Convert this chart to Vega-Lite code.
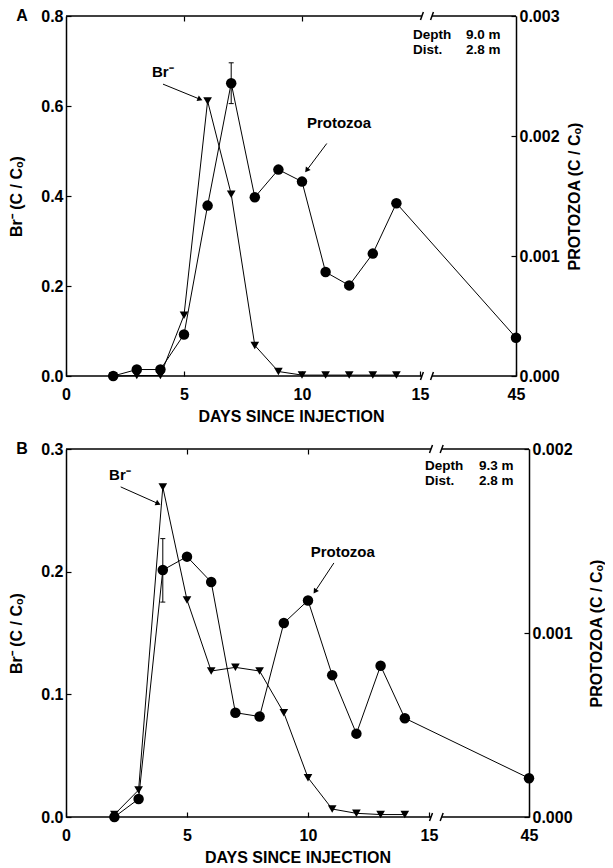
{
  "$schema": "https://vega.github.io/schema/vega-lite/v6.json",
  "padding": {"left": 8, "top": 8, "right": 0, "bottom": 0},
  "spacing": 17,
  "config": {
    "view": {"stroke": null},
    "font": "Liberation Sans",
    "axis": {"grid": false, "domainColor": "black", "domainWidth": 1.5, "tickColor": "black", "tickWidth": 1.2, "tickSize": -5,
      "labelFont": "Liberation Sans", "labelFontSize": 16, "labelFontWeight": "bold", "labelColor": "black",
      "titleFont": "Liberation Sans", "titleFontSize": 16, "titleFontWeight": "bold", "titleColor": "black",
      "labelFlush": false, "labelOverlap": false},
    "text": {"font": "Liberation Sans", "fontWeight": "bold", "color": "black"}
  },
  "datasets": {
    "brA": [
      {"day": 2, "br": 0.0}, {"day": 3, "br": 0.001}, {"day": 4, "br": 0.001}, {"day": 5, "br": 0.135},
      {"day": 6, "br": 0.611}, {"day": 7, "br": 0.404}, {"day": 8, "br": 0.068}, {"day": 9, "br": 0.01},
      {"day": 10, "br": 0.002}, {"day": 11, "br": 0.002}, {"day": 12, "br": 0.002}, {"day": 13, "br": 0.002}, {"day": 14, "br": 0.002}
    ],
    "protoA": [
      {"day": 2, "p": 0.0}, {"day": 3, "p": 0.000054}, {"day": 4, "p": 0.000054}, {"day": 5, "p": 0.000346},
      {"day": 6, "p": 0.00142}, {"day": 7, "p": 0.00244}, {"day": 8, "p": 0.00149}, {"day": 9, "p": 0.00172},
      {"day": 10, "p": 0.00162}, {"day": 11, "p": 0.000866}, {"day": 12, "p": 0.000755}, {"day": 13, "p": 0.00102},
      {"day": 14, "p": 0.00144}, {"day": 45, "p": 0.000319}
    ],
    "errA": [{"day": 7, "lo": 0.00227, "hi": 0.00261}],
    "frameA": [
      {"x": 0, "x2": 15.6, "y": 0, "y2": 0}, {"x": 18.75, "x2": 45, "y": 0, "y2": 0},
      {"x": 0, "x2": 15.6, "y": 0.8, "y2": 0.8}, {"x": 18.75, "x2": 45, "y": 0.8, "y2": 0.8},
      {"x": 15.15, "x2": 16.05, "y": -0.009, "y2": 0.009}, {"x": 18.3, "x2": 19.2, "y": -0.009, "y2": 0.009},
      {"x": 15.15, "x2": 16.05, "y": 0.791, "y2": 0.809}, {"x": 18.3, "x2": 19.2, "y": 0.791, "y2": 0.809}
    ],
    "arrowsA": [
      {"x": 4.11, "y": 0.6486, "x2": 5.68, "y2": 0.615, "k": "br"},
      {"x": 11.05, "y": 0.5167, "x2": 10.2, "y2": 0.4572, "k": "pr"}
    ],
    "labelsA": [
      {"x": 3.64, "y": 0.675, "t": "Br⁻"},
      {"x": 10.21, "y": 0.562, "t": "Protozoa"}
    ],
    "infoA": [
      {"x": 14.7, "y": 0.757, "t": "Depth"}, {"x": 29.4, "y": 0.757, "t": "9.0 m"},
      {"x": 14.7, "y": 0.724, "t": "Dist."}, {"x": 29.4, "y": 0.724, "t": "2.8 m"}
    ],
    "letterA": [{"x": 0, "y": 0.8, "t": "A"}],
    "brB": [
      {"day": 2, "br": 0.002}, {"day": 3, "br": 0.022}, {"day": 4, "br": 0.269}, {"day": 5, "br": 0.177},
      {"day": 6, "br": 0.119}, {"day": 7, "br": 0.122}, {"day": 8, "br": 0.119}, {"day": 9, "br": 0.085},
      {"day": 10, "br": 0.032}, {"day": 11, "br": 0.0065}, {"day": 12, "br": 0.003}, {"day": 13, "br": 0.002}, {"day": 14, "br": 0.002}
    ],
    "protoB": [
      {"day": 2, "p": 0.0}, {"day": 3, "p": 0.000098}, {"day": 4, "p": 0.001342}, {"day": 5, "p": 0.001415},
      {"day": 6, "p": 0.001277}, {"day": 7, "p": 0.000567}, {"day": 8, "p": 0.000546}, {"day": 9, "p": 0.001054},
      {"day": 10, "p": 0.001177}, {"day": 11, "p": 0.000771}, {"day": 12, "p": 0.000453}, {"day": 13, "p": 0.000822},
      {"day": 14, "p": 0.000537}, {"day": 45, "p": 0.000211}
    ],
    "errB": [{"day": 4, "lo": 0.001168, "hi": 0.001513}],
    "frameB": [
      {"x": 0, "x2": 15.6, "y": 0, "y2": 0}, {"x": 18.8, "x2": 45, "y": 0, "y2": 0},
      {"x": 0, "x2": 15.6, "y": 0.3, "y2": 0.3}, {"x": 18.8, "x2": 45, "y": 0.3, "y2": 0.3},
      {"x": 15.15, "x2": 16.05, "y": -0.0033, "y2": 0.0033}, {"x": 18.35, "x2": 19.25, "y": -0.0033, "y2": 0.0033},
      {"x": 15.15, "x2": 16.05, "y": 0.2967, "y2": 0.3033}, {"x": 18.35, "x2": 19.25, "y": 0.2967, "y2": 0.3033}
    ],
    "arrowsB": [
      {"x": 2.26, "y": 0.2691, "x2": 3.81, "y2": 0.2555, "k": "br"},
      {"x": 11.07, "y": 0.2071, "x2": 10.29, "y2": 0.1839, "k": "pr"}
    ],
    "labelsB": [
      {"x": 1.78, "y": 0.2784, "t": "Br⁻"},
      {"x": 10.11, "y": 0.2159, "t": "Protozoa"}
    ],
    "infoB": [
      {"x": 14.83, "y": 0.2861, "t": "Depth"}, {"x": 30, "y": 0.2861, "t": "9.3 m"},
      {"x": 14.83, "y": 0.2738, "t": "Dist."}, {"x": 30, "y": 0.2738, "t": "2.8 m"}
    ],
    "letterB": [{"x": 0, "y": 0.3, "t": "B"}]
  },
  "vconcat": [
    {
      "width": 450, "height": 360,
      "resolve": {"scale": {"y": "independent"}, "axis": {"y": "independent", "x": "independent"}},
      "layer": [
        {
          "layer": [
            {"data": {"name": "brA"}, "mark": {"type": "line", "color": "black", "strokeWidth": 1},
             "encoding": {
               "x": {"field": "day", "type": "quantitative", "scale": {"domain": [0, 15, 45], "range": [0, 354, 450], "nice": false, "zero": false},
                     "axis": {"orient": "bottom", "values": [0, 5, 10, 15, 45], "domain": false, "title": "DAYS SINCE INJECTION", "labelPadding": 15, "titlePadding": 6}},
               "y": {"field": "br", "type": "quantitative", "scale": {"domain": [0, 0.8], "nice": false, "zero": false},
                     "axis": {"orient": "left", "values": [0, 0.2, 0.4, 0.6, 0.8], "format": ".1f", "title": "Br⁻  (C / Cₒ)", "labelPadding": 8, "titlePadding": 16}}
             }},
            {"data": {"name": "brA"}, "mark": {"type": "point", "shape": "triangle-down", "filled": true, "color": "black", "size": 75, "opacity": 1},
             "encoding": {"x": {"field": "day", "type": "quantitative"}, "y": {"field": "br", "type": "quantitative"}}},
            {"data": {"name": "frameA"}, "mark": {"type": "rule", "color": "black", "strokeWidth": 1.5},
             "encoding": {"x": {"field": "x", "type": "quantitative"}, "x2": {"field": "x2"}, "y": {"field": "y", "type": "quantitative"}, "y2": {"field": "y2"}}},
            {"data": {"name": "arrowsA"}, "mark": {"type": "rule", "color": "black", "strokeWidth": 1},
             "encoding": {"x": {"field": "x", "type": "quantitative"}, "x2": {"field": "x2"}, "y": {"field": "y", "type": "quantitative"}, "y2": {"field": "y2"}}},
            {"data": {"name": "arrowsA"}, "transform": [{"filter": "datum.k == 'br'"}], "mark": {"type": "point", "shape": "triangle-right", "angle": 22, "filled": true, "color": "black", "size": 35, "opacity": 1},
             "encoding": {"x": {"field": "x2", "type": "quantitative"}, "y": {"field": "y2", "type": "quantitative"}}},
            {"data": {"name": "arrowsA"}, "transform": [{"filter": "datum.k == 'pr'"}], "mark": {"type": "point", "shape": "triangle-right", "angle": 127, "filled": true, "color": "black", "size": 35, "opacity": 1},
             "encoding": {"x": {"field": "x2", "type": "quantitative"}, "y": {"field": "y2", "type": "quantitative"}}},
            {"data": {"name": "labelsA"}, "mark": {"type": "text", "align": "left", "baseline": "middle", "fontSize": 15},
             "encoding": {"x": {"field": "x", "type": "quantitative"}, "y": {"field": "y", "type": "quantitative"}, "text": {"field": "t"}}},
            {"data": {"name": "infoA"}, "mark": {"type": "text", "align": "left", "baseline": "middle", "fontSize": 13.5},
             "encoding": {"x": {"field": "x", "type": "quantitative"}, "y": {"field": "y", "type": "quantitative"}, "text": {"field": "t"}}},
            {"data": {"name": "letterA"}, "mark": {"type": "text", "align": "center", "baseline": "middle", "fontSize": 16, "dx": -44},
             "encoding": {"x": {"field": "x", "type": "quantitative"}, "y": {"field": "y", "type": "quantitative"}, "text": {"field": "t"}}}
          ]
        },
        {
          "layer": [
            {"data": {"name": "protoA"}, "mark": {"type": "line", "color": "black", "strokeWidth": 1},
             "encoding": {
               "x": {"field": "day", "type": "quantitative", "axis": {"orient": "top", "values": [5, 10], "domain": false, "labels": false, "title": null}},
               "y": {"field": "p", "type": "quantitative", "scale": {"domain": [0, 0.003], "nice": false, "zero": false},
                     "axis": {"orient": "right", "values": [0, 0.001, 0.002, 0.003], "format": ".3f", "title": "PROTOZOA  (C / Cₒ)", "titleAngle": 270, "titleBaseline": "top", "labelPadding": 8, "titlePadding": 7}}
             }},
            {"data": {"name": "errA"}, "mark": {"type": "rule", "color": "black", "strokeWidth": 1},
             "encoding": {"x": {"field": "day", "type": "quantitative"}, "y": {"field": "lo", "type": "quantitative"}, "y2": {"field": "hi"}}},
            {"data": {"name": "errA"}, "mark": {"type": "tick", "orient": "horizontal", "color": "black", "size": 5, "thickness": 1, "opacity": 1},
             "encoding": {"x": {"field": "day", "type": "quantitative"}, "y": {"field": "lo", "type": "quantitative"}}},
            {"data": {"name": "errA"}, "mark": {"type": "tick", "orient": "horizontal", "color": "black", "size": 5, "thickness": 1, "opacity": 1},
             "encoding": {"x": {"field": "day", "type": "quantitative"}, "y": {"field": "hi", "type": "quantitative"}}},
            {"data": {"name": "protoA"}, "mark": {"type": "point", "shape": "circle", "filled": true, "color": "black", "size": 110, "opacity": 1},
             "encoding": {"x": {"field": "day", "type": "quantitative"}, "y": {"field": "p", "type": "quantitative"}}}
          ]
        }
      ]
    },
    {
      "width": 463, "height": 368,
      "resolve": {"scale": {"y": "independent"}, "axis": {"y": "independent", "x": "independent"}},
      "layer": [
        {
          "layer": [
            {"data": {"name": "brB"}, "mark": {"type": "line", "color": "black", "strokeWidth": 1},
             "encoding": {
               "x": {"field": "day", "type": "quantitative", "scale": {"domain": [0, 15, 45], "range": [0, 363, 463], "nice": false, "zero": false},
                     "axis": {"orient": "bottom", "values": [0, 5, 10, 15, 45], "domain": false, "title": "DAYS SINCE INJECTION", "labelPadding": 15, "titlePadding": 6}},
               "y": {"field": "br", "type": "quantitative", "scale": {"domain": [0, 0.3], "nice": false, "zero": false},
                     "axis": {"orient": "left", "values": [0, 0.1, 0.2, 0.3], "format": ".1f", "title": "Br⁻  (C / Cₒ)", "labelPadding": 8, "titlePadding": 16}}
             }},
            {"data": {"name": "brB"}, "mark": {"type": "point", "shape": "triangle-down", "filled": true, "color": "black", "size": 75, "opacity": 1},
             "encoding": {"x": {"field": "day", "type": "quantitative"}, "y": {"field": "br", "type": "quantitative"}}},
            {"data": {"name": "frameB"}, "mark": {"type": "rule", "color": "black", "strokeWidth": 1.5},
             "encoding": {"x": {"field": "x", "type": "quantitative"}, "x2": {"field": "x2"}, "y": {"field": "y", "type": "quantitative"}, "y2": {"field": "y2"}}},
            {"data": {"name": "arrowsB"}, "mark": {"type": "rule", "color": "black", "strokeWidth": 1},
             "encoding": {"x": {"field": "x", "type": "quantitative"}, "x2": {"field": "x2"}, "y": {"field": "y", "type": "quantitative"}, "y2": {"field": "y2"}}},
            {"data": {"name": "arrowsB"}, "transform": [{"filter": "datum.k == 'br'"}], "mark": {"type": "point", "shape": "triangle-right", "angle": 24, "filled": true, "color": "black", "size": 35, "opacity": 1},
             "encoding": {"x": {"field": "x2", "type": "quantitative"}, "y": {"field": "y2", "type": "quantitative"}}},
            {"data": {"name": "arrowsB"}, "transform": [{"filter": "datum.k == 'pr'"}], "mark": {"type": "point", "shape": "triangle-right", "angle": 124, "filled": true, "color": "black", "size": 35, "opacity": 1},
             "encoding": {"x": {"field": "x2", "type": "quantitative"}, "y": {"field": "y2", "type": "quantitative"}}},
            {"data": {"name": "labelsB"}, "mark": {"type": "text", "align": "left", "baseline": "middle", "fontSize": 15},
             "encoding": {"x": {"field": "x", "type": "quantitative"}, "y": {"field": "y", "type": "quantitative"}, "text": {"field": "t"}}},
            {"data": {"name": "infoB"}, "mark": {"type": "text", "align": "left", "baseline": "middle", "fontSize": 13.5},
             "encoding": {"x": {"field": "x", "type": "quantitative"}, "y": {"field": "y", "type": "quantitative"}, "text": {"field": "t"}}},
            {"data": {"name": "letterB"}, "mark": {"type": "text", "align": "center", "baseline": "middle", "fontSize": 16, "dx": -44},
             "encoding": {"x": {"field": "x", "type": "quantitative"}, "y": {"field": "y", "type": "quantitative"}, "text": {"field": "t"}}}
          ]
        },
        {
          "layer": [
            {"data": {"name": "protoB"}, "mark": {"type": "line", "color": "black", "strokeWidth": 1},
             "encoding": {
               "x": {"field": "day", "type": "quantitative", "axis": {"orient": "top", "values": [5, 10], "domain": false, "labels": false, "title": null}},
               "y": {"field": "p", "type": "quantitative", "scale": {"domain": [0, 0.002], "nice": false, "zero": false},
                     "axis": {"orient": "right", "values": [0, 0.001, 0.002], "format": ".3f", "title": "PROTOZOA  (C / Cₒ)", "titleAngle": 270, "titleBaseline": "top", "labelPadding": 8, "titlePadding": 16}}
             }},
            {"data": {"name": "errB"}, "mark": {"type": "rule", "color": "black", "strokeWidth": 1},
             "encoding": {"x": {"field": "day", "type": "quantitative"}, "y": {"field": "lo", "type": "quantitative"}, "y2": {"field": "hi"}}},
            {"data": {"name": "errB"}, "mark": {"type": "tick", "orient": "horizontal", "color": "black", "size": 5, "thickness": 1, "opacity": 1},
             "encoding": {"x": {"field": "day", "type": "quantitative"}, "y": {"field": "lo", "type": "quantitative"}}},
            {"data": {"name": "errB"}, "mark": {"type": "tick", "orient": "horizontal", "color": "black", "size": 5, "thickness": 1, "opacity": 1},
             "encoding": {"x": {"field": "day", "type": "quantitative"}, "y": {"field": "hi", "type": "quantitative"}}},
            {"data": {"name": "protoB"}, "mark": {"type": "point", "shape": "circle", "filled": true, "color": "black", "size": 110, "opacity": 1},
             "encoding": {"x": {"field": "day", "type": "quantitative"}, "y": {"field": "p", "type": "quantitative"}}}
          ]
        }
      ]
    }
  ]
}
